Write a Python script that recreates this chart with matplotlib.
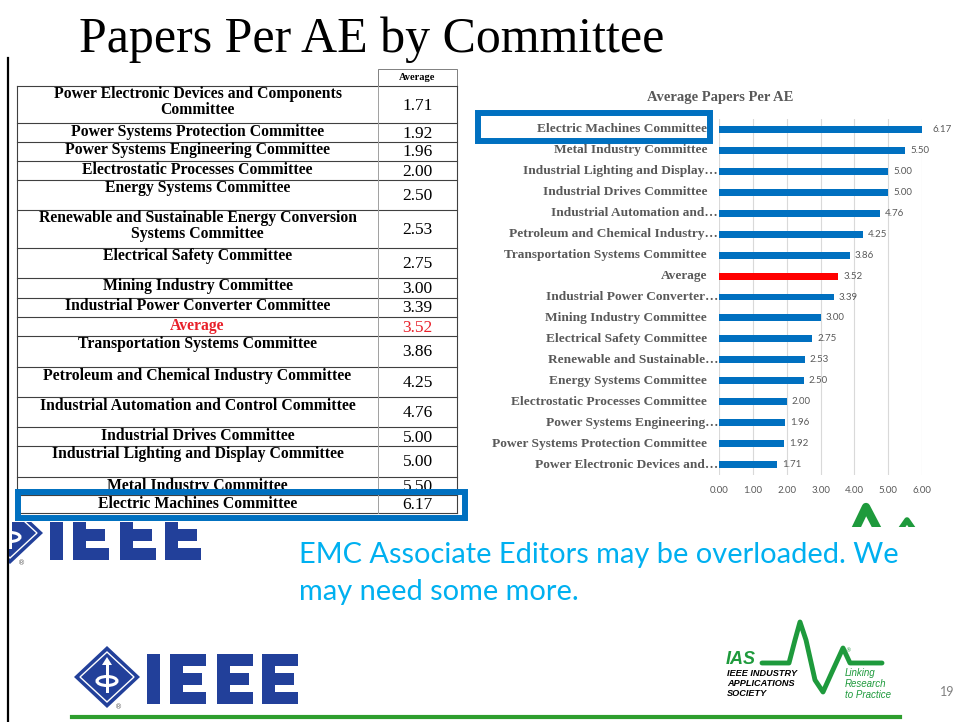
import matplotlib
matplotlib.use('Agg')
import matplotlib.pyplot as plt
from matplotlib.patches import Rectangle, Polygon, Ellipse
from matplotlib.transforms import offset_copy

# data
table_names = ["Power Electronic Devices and Components\nCommittee",
               "Power Systems Protection Committee",
               "Power Systems Engineering Committee",
               "Electrostatic Processes Committee",
               "Energy Systems Committee",
               "Renewable and Sustainable Energy Conversion\nSystems Committee",
               "Electrical Safety Committee",
               "Mining Industry Committee",
               "Industrial Power Converter Committee",
               "Average",
               "Transportation Systems Committee",
               "Petroleum and Chemical Industry Committee",
               "Industrial Automation and Control Committee",
               "Industrial Drives Committee",
               "Industrial Lighting and Display Committee",
               "Metal Industry Committee",
               "Electric Machines Committee"]
chart_labels = ["Power Electronic Devices and\u2026",
                "Power Systems Protection Committee",
                "Power Systems Engineering\u2026",
                "Electrostatic Processes Committee",
                "Energy Systems Committee",
                "Renewable and Sustainable\u2026",
                "Electrical Safety Committee",
                "Mining Industry Committee",
                "Industrial Power Converter\u2026",
                "Average",
                "Transportation Systems Committee",
                "Petroleum and Chemical Industry\u2026",
                "Industrial Automation and\u2026",
                "Industrial Drives Committee",
                "Industrial Lighting and Display\u2026",
                "Metal Industry Committee",
                "Electric Machines Committee"]
averages = [1.71, 1.92, 1.96, 2.00, 2.50, 2.53, 2.75, 3.00, 3.39, 3.52,
            3.86, 4.25, 4.76, 5.00, 5.00, 5.50, 6.17]
x_ticks = [0, 1, 2, 3, 4, 5, 6]

# layout (pixels)
row_h = [37, 19, 19, 19, 30, 38, 30, 20, 19, 19, 31, 30, 30, 19, 31, 18, 18]
SERIF = 'Liberation Serif'
BLUE = '#0070C0'
RED = '#E8202A'
GRAY = '#595959'
NAVY = '#22409A'
GREEN = '#1E9A3C'

fig = plt.figure(figsize=(9.55, 7.22), dpi=100)
bg = fig.add_axes([0, 0, 1, 1])
bg.set_xlim(0, 955)
bg.set_ylim(722, 0)
bg.axis('off')

# title
bg.text(372, 40, "Papers Per AE by Committee", family=SERIF, fontsize=36,
        ha='center', va='center')

# left border
bg.plot([8, 8], [58, 722], color='black', lw=1.6)

# ---- table ----
x0, x1, x2 = 17, 378, 457
top = 86
bg.add_patch(Rectangle((x1, 69), x2 - x1, top - 69, fill=False, ec='#808080', lw=0.7))
bg.text((x1 + x2) / 2, 77.5, "Average", family=SERIF, weight='bold', fontsize=7.5,
        ha='center', va='center')
y = top
for name, v, h in zip(table_names, averages, row_h):
    col = RED if name == "Average" else 'black'
    bg.plot([x0, x2], [y, y], color='#404040', lw=0.8)
    bg.text((x0 + x1) / 2, y + 0.5, name, family=SERIF, weight='bold', fontsize=11.3,
            ha='center', va='top', color=col, linespacing=1.0)
    bg.text((x1 + x2) / 2, y + h / 2 + 1, f"{v:.2f}", family=SERIF, fontsize=12.5,
            ha='center', va='center', color=col)
    y += h
bg.plot([x0, x2], [y, y], color='#404040', lw=0.8)
bg.plot([x0, x0], [top, y], color='#404040', lw=0.8)
bg.plot([x2, x2], [top, y], color='#404040', lw=0.8)
bg.plot([x1, x1], [top, y], color='#A0A0A0', lw=0.7)

# highlight boxes
bg.add_patch(Rectangle((18, 492), 447, 26, fill=False, ec=BLUE, lw=4.3, zorder=5))
bg.add_patch(Rectangle((478, 113), 232, 28, fill=False, ec=BLUE, lw=4.3, zorder=5))

# ---- bar chart ----
ax = fig.add_axes([719 / 955, (722 - 475) / 722, (922 - 719) / 955, (475 - 119) / 722])
ypos = list(range(len(averages)))
colors = ['#FF0000' if n == "Average" else BLUE for n in chart_labels]
ax.barh(ypos, averages, height=0.33, color=colors, zorder=3)
ax.set_xlim(0, 6)
ax.set_ylim(-0.5, len(averages) - 0.5)
ax.set_xticks(x_ticks)
ax.set_xticklabels([f"{t:.2f}" for t in x_ticks], family='Lato', fontsize=7, color=GRAY)
ax.set_yticks([])
ax.tick_params(axis='x', length=0, pad=8)
ax.grid(axis='x', color='#D9D9D9', lw=0.8, zorder=0)
for s in ax.spines.values():
    s.set_visible(False)
ytr = ax.get_yaxis_transform()
for i, (lab, v) in enumerate(zip(chart_labels, averages)):
    dx = -1 if lab.endswith('\u2026') else -12
    ax.text(0, i, lab, transform=offset_copy(ytr, fig=fig, x=dx, units='dots'),
            ha='right', va='center', family=SERIF, weight='bold', fontsize=9.6,
            color=GRAY, clip_on=False)
    ax.annotate(f"{v:.2f}", (v, i), xytext=(5, 0), textcoords='offset pixels',
                ha='left', va='center', family='Lato', fontsize=7, color=GRAY,
                annotation_clip=False)
bg.text(720, 98, "Average Papers Per AE", family=SERIF, weight='bold', fontsize=10.5,
        color=GRAY, ha='center', va='center')

# ---- message ----
bg.text(299, 563, "EMC Associate Editors may be overloaded. We", family='Lato',
        fontsize=20.9, color='#00B0F0', ha='left', va='baseline')
bg.text(299, 600, "may need some more.", family='Lato',
        fontsize=20.9, color='#00B0F0', ha='left', va='baseline')


# ---- IEEE logos ----
def ieee_logo(ix, ty, clip=None):
    arts = []
    cx, cy = ix - 40, ty + 23
    arts.append(Polygon([(cx - 33, cy), (cx, cy - 31), (cx + 33, cy), (cx, cy + 31)],
                        closed=True, fc=NAVY, ec='none'))
    arts.append(Polygon([(cx - 27, cy), (cx, cy - 25), (cx + 27, cy), (cx, cy + 25)],
                        closed=True, fc='none', ec='white', lw=1.0))
    arts.append(Ellipse((cx, cy + 4), 20, 9, fc='none', ec='white', lw=2.2))
    arts.append(Rectangle((cx - 1.5, cy - 14), 3, 30, fc='white', ec='none'))
    arts.append(Polygon([(cx - 5, cy - 12), (cx, cy - 20), (cx + 5, cy - 12)],
                        closed=True, fc='white', ec='none'))
    arts.append(Rectangle((ix, ty), 13, 50, fc=NAVY, ec='none'))
    for ex in (ix + 23, ix + 70, ix + 115):
        arts.append(Rectangle((ex, ty), 13, 50, fc=NAVY, ec='none'))
        arts.append(Rectangle((ex, ty), 36, 12, fc=NAVY, ec='none'))
        arts.append(Rectangle((ex, ty + 19), 32, 12, fc=NAVY, ec='none'))
        arts.append(Rectangle((ex, ty + 38), 36, 12, fc=NAVY, ec='none'))
    for a in arts:
        bg.add_patch(a)
        if clip is not None:
            a.set_clip_path(clip)
    t = bg.text(cx + 12, cy + 30, "\u00ae", fontsize=5, color=GRAY, ha='center', va='center')
    if clip is not None:
        t.set_clip_path(clip)


clip1 = Rectangle((9, 522), 300, 60, transform=bg.transData)
ieee_logo(50, 510, clip1)
ieee_logo(147, 654)

# ---- IAS logo ----
bg.plot([762, 789, 795, 800, 806, 815, 823, 832, 843, 850, 882],
        [663, 663, 640, 622, 640, 680, 692, 672, 648, 663, 663],
        color=GREEN, lw=3.5, solid_joinstyle='round', solid_capstyle='round')
bg.text(726, 664, "IAS", family='Liberation Sans', weight='bold', style='italic',
        fontsize=13, color=GREEN, ha='left', va='baseline')
bg.text(727, 669.5, "IEEE INDUSTRY\nAPPLICATIONS\nSOCIETY",
        family='Liberation Sans', weight='bold',
        style='italic', fontsize=6.6, color='black', ha='left', va='top', linespacing=1.1)
bg.text(845, 668, "Linking\nResearch\nto Practice", family='Liberation Sans',
        style='italic', fontsize=7, color=GREEN, ha='left', va='top', linespacing=1.1)
bg.text(848, 651, "\u00ae", fontsize=4, color=GREEN, ha='center', va='center')

# partial logo hidden behind the chart picture
clip2 = Rectangle((840, 500), 100, 27, transform=bg.transData)
w1, = bg.plot([855, 866, 878], [530, 507, 530], color=GREEN, lw=6, solid_joinstyle='round')
w2, = bg.plot([900, 907, 914], [530, 520, 530], color=GREEN, lw=4, solid_joinstyle='round')
w1.set_clip_path(clip2)
w2.set_clip_path(clip2)

# footer
bg.plot([72, 900], [717, 717], color='#2E9E2E', lw=3)
bg.text(940, 692, "19", family='Lato', fontsize=9, color='#808080', ha='left', va='center')

fig.savefig('out.png', dpi=100)
